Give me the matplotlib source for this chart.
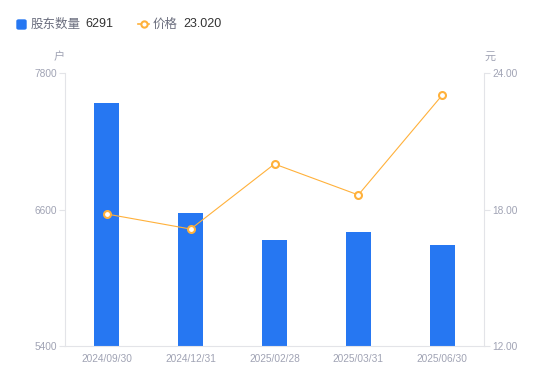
import matplotlib
matplotlib.use('Agg')
import matplotlib.pyplot as plt
from matplotlib.lines import Line2D
from matplotlib.patches import FancyBboxPatch

plt.rcParams['font.family'] = ['Liberation Sans', 'Noto Sans CJK SC']

# data
dates = ['2024/09/30', '2024/12/31', '2025/02/28', '2025/03/31', '2025/06/30']
holders = [7536, 6569, 6332, 6402, 6291]
price = [17.80, 17.14, 20.00, 18.64, 23.02]
left_ticks = [5400, 6600, 7800]
right_ticks = [12.00, 18.00, 24.00]

BAR = '#2677f2'
LINE = '#ffb13b'
GREY = '#a0a3b4'
AXIS = '#e3e4e8'
CJK = ['Noto Sans CJK SC', 'DejaVu Sans']

fig = plt.figure(figsize=(5.5, 3.81), dpi=100)
ax = fig.add_axes([65 / 550, 1 - 346 / 381, 419 / 550, 273 / 381])
x = list(range(len(dates)))
ax.bar(x, holders, width=0.3, color=BAR, zorder=2)
ax.set_xlim(-0.5, len(dates) - 0.5)
ax.set_ylim(left_ticks[0], left_ticks[-1])
ax.set_yticks(left_ticks)
ax.set_yticklabels([str(t) for t in left_ticks])
ax.set_xticks(x)
ax.set_xticklabels(dates)

ax2 = ax.twinx()
ax2.plot(x, price, color=LINE, lw=0.8, marker='o', ms=5, mfc='white',
         mec=LINE, mew=1.5, zorder=3)
ax2.set_ylim(right_ticks[0], right_ticks[-1])
ax2.set_yticks(right_ticks)
ax2.set_yticklabels(['%.2f' % t for t in right_ticks])

for a in (ax, ax2):
    for s in a.spines.values():
        s.set_visible(False)
    a.tick_params(labelsize=7.3, colors=GREY, length=4, width=0.8, pad=2)
    a.tick_params(axis='y', color=AXIS)
ax.spines['left'].set_visible(True)
ax.spines['left'].set_color(AXIS)
ax.spines['bottom'].set_visible(True)
ax.spines['bottom'].set_color(AXIS)
ax2.spines['right'].set_visible(True)
ax2.spines['right'].set_color(AXIS)
ax.tick_params(axis='x', length=0, pad=6)

fig.text(59 / 550, 1 - 57 / 381, '户', fontsize=8, color=GREY, ha='center', va='center', family=CJK)
fig.text(490 / 550, 1 - 57 / 381, '元', fontsize=8, color=GREY, ha='center', va='center', family=CJK)

# legend
fig.patches.append(FancyBboxPatch(
    (17 / 550, 1 - 29 / 381), 9 / 550, 9 / 381, boxstyle='round,pad=0,rounding_size=0.003',
    transform=fig.transFigure, color=BAR))
fig.text(31 / 550, 1 - 24 / 381, '股东数量', fontsize=9, color='#6b6e7e', va='center', family=CJK)
fig.text(85 / 550, 1 - 24 / 381, '6291', fontsize=9, color='#333333', va='center')
fig.lines.append(Line2D([138 / 550, 149 / 550], [1 - 24 / 381] * 2, transform=fig.transFigure,
                        color=LINE, lw=1.2))
fig.lines.append(Line2D([143.5 / 550], [1 - 24 / 381], transform=fig.transFigure, marker='o',
                        ms=4.5, mfc='white', mec=LINE, mew=1.5, lw=0))
fig.text(153 / 550, 1 - 24 / 381, '价格', fontsize=9, color='#6b6e7e', va='center', family=CJK)
fig.text(183 / 550, 1 - 24 / 381, '23.020', fontsize=9, color='#333333', va='center')

fig.savefig('out.png', dpi=100)
